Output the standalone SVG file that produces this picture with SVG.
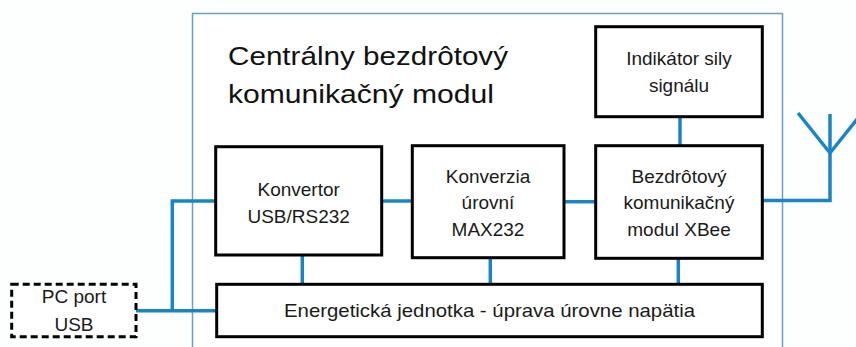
<svg xmlns="http://www.w3.org/2000/svg" width="856" height="347" viewBox="0 0 856 347">
<style>
.box{fill:#fff;stroke:#000;stroke-width:3}
.dash{fill:#fff;stroke:#000;stroke-width:3;stroke-dasharray:7,4}
.wire{fill:none;stroke:#1a84c4;stroke-width:3.5}
.t{font-family:"Liberation Sans",Arial,sans-serif;font-size:19px;fill:#1a1a1a;text-anchor:middle}
.title{font-family:"Liberation Sans",Arial,sans-serif;font-size:25px;fill:#111}
</style>
<rect width="856" height="347" fill="#fdfefe"/>
<g id="container">
<rect x="192.5" y="13.5" width="590" height="345" fill="#fff" stroke="#6d9ec2" stroke-width="1.5"/>
<text class="title" x="228" y="65" textLength="280" lengthAdjust="spacingAndGlyphs">Centrálny bezdrôtový</text>
<text class="title" x="228" y="102.5" textLength="266" lengthAdjust="spacingAndGlyphs">komunikačný modul</text>
</g>
<g id="connectors">
<polyline class="wire" points="136,310.7 217,310.7"/>
<polyline class="wire" points="172.3,310.7 172.3,201 216,201"/>
<line class="wire" x1="381.7" y1="201" x2="412.3" y2="201"/>
<line class="wire" x1="564" y1="201.7" x2="595" y2="201.7"/>
<line class="wire" x1="680" y1="116.7" x2="680" y2="146"/>
<line class="wire" x1="302.3" y1="255" x2="302.3" y2="284.5"/>
<line class="wire" x1="490.3" y1="257.7" x2="490.3" y2="284.5"/>
<line class="wire" x1="678.3" y1="258.3" x2="678.3" y2="284.5"/>
<polyline class="wire" points="762.3,200.5 830,200.5 830,114"/>
<line class="wire" x1="798" y1="113" x2="830" y2="153"/>
<line class="wire" x1="830" y1="153" x2="862" y2="113"/>
</g>
<g id="pc-port">
<rect class="dash" x="11.7" y="284.3" width="124.3" height="52.4"/>
<text class="t" x="74" y="303.3">PC port</text>
<text class="t" x="74" y="331">USB</text>
</g>
<g id="indikator">
<rect class="box" x="595.7" y="26.7" width="166.6" height="90"/>
<text class="t" x="679" y="65">Indikátor sily</text>
<text class="t" x="679" y="91.7">signálu</text>
</g>
<g id="konvertor">
<rect class="box" x="215.7" y="146.7" width="166" height="108.3"/>
<text class="t" x="298.7" y="196">Konvertor</text>
<text class="t" x="298.7" y="223.3">USB/RS232</text>
</g>
<g id="konverzia">
<rect class="box" x="412.3" y="145.7" width="151.7" height="112"/>
<text class="t" x="488" y="183">Konverzia</text>
<text class="t" x="488" y="209.3">úrovní</text>
<text class="t" x="488" y="235.7">MAX232</text>
</g>
<g id="xbee">
<rect class="box" x="595.7" y="145.7" width="166.6" height="112.6"/>
<text class="t" x="679" y="183">Bezdrôtový</text>
<text class="t" x="679" y="209.3">komunikačný</text>
<text class="t" x="679" y="235.7">modul XBee</text>
</g>
<g id="energeticka">
<rect class="box" x="216.7" y="284.3" width="545.6" height="52.4"/>
<text class="t" x="489.5" y="316.7" textLength="411" lengthAdjust="spacingAndGlyphs">Energetická jednotka - úprava úrovne napätia</text>
</g>
</svg>
